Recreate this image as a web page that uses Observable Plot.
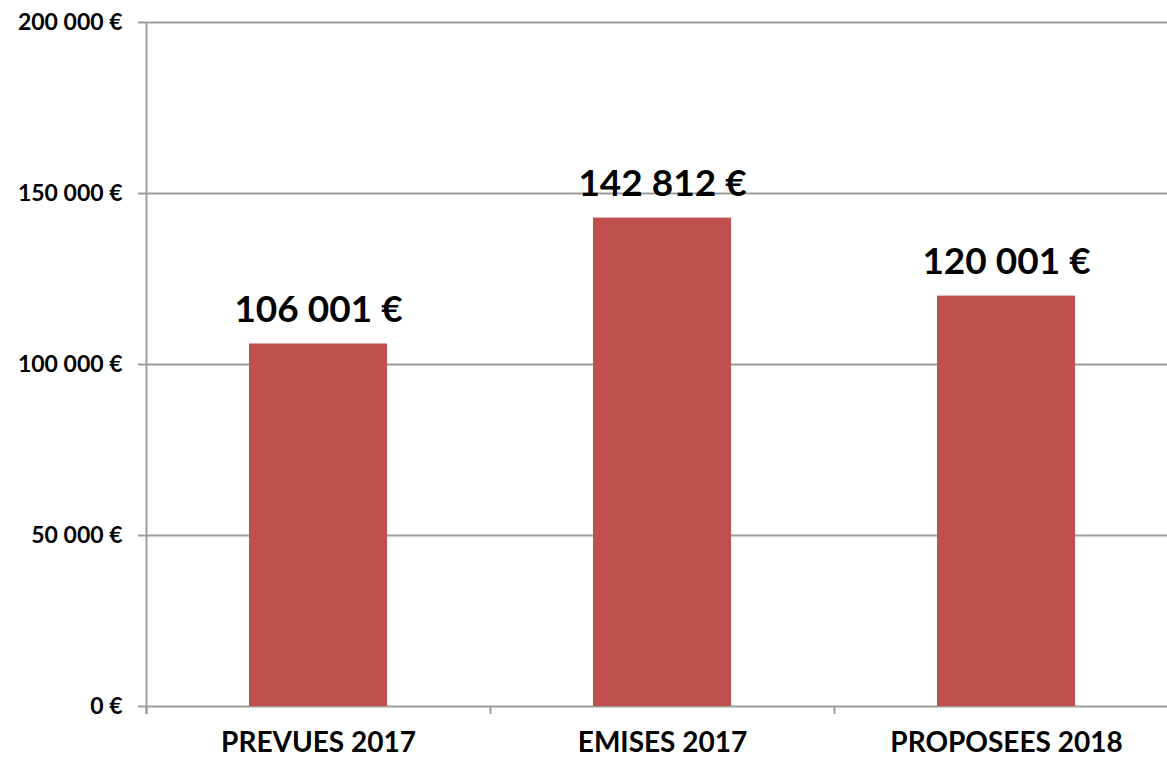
<!DOCTYPE html>
<html>
<head>
<meta charset="utf-8">
<script src="https://cdn.jsdelivr.net/npm/d3@7"></script>
<script src="https://cdn.jsdelivr.net/npm/@observablehq/plot@0.6"></script>
<style>
  html, body { margin: 0; padding: 0; background: #fff; }
  #chart svg { display: block; }
</style>
</head>
<body>
<div id="chart"></div>
<script>
const categories = ["PREVUES 2017", "EMISES 2017", "PROPOSEES 2018"];
const values = [106001, 142812, 120001];
const yTicks = [0, 50000, 100000, 150000, 200000];
const yMax = 200000;

const data = categories.map((c, i) => ({category: c, value: values[i]}));

const euro = v => d3.format(",")(v).replace(/,/g, " ") + " €";

const W = 1167, H = 758;
const mL = 146, mT = 22, mB = 52;
const step = 344;
const xRange = [mL, mL + step * categories.length];
const font = "Lato, 'Open Sans', sans-serif";
const grid = "#9d9d9d";

const chart = Plot.plot({
  width: W,
  height: H,
  marginLeft: mL,
  marginRight: 0,
  marginTop: mT,
  marginBottom: mB,
  style: {fontFamily: font, color: "#000", background: "#fff", overflow: "visible"},
  x: {domain: categories, range: xRange, padding: 0, label: null},
  y: {domain: [0, yMax], ticks: yTicks, label: null},
  marks: [
    Plot.gridY(yTicks, {stroke: grid, strokeOpacity: 1, strokeWidth: 2}),
    Plot.axisY(yTicks, {
      tickSize: 8, tickPadding: 16, tickFormat: euro, label: null,
      stroke: grid, strokeWidth: 2,
      fontSize: 23, fontWeight: "bold", fill: "#000"
    }),
    Plot.barY(data, {
      x: "category", y: "value", fill: "#c0504d",
      insetLeft: 103, insetRight: 103
    }),
    Plot.ruleX([categories[0]], {
      y1: yMax, y2: 0, dx: -step / 2, insetBottom: -8,
      stroke: grid, strokeWidth: 2
    }),
    Plot.ruleX(categories, {
      y1: 0, y2: 0, dx: -step / 2, insetBottom: -8,
      stroke: grid, strokeWidth: 2
    }),
    Plot.axisX({
      tickSize: 0, tickPadding: 26, label: null,
      fontSize: 28, fontWeight: "bold", fill: "#000"
    }),
    Plot.text(data, {
      x: "category", y: "value", text: d => euro(d.value),
      dy: -22, lineAnchor: "bottom", textAnchor: "middle",
      fontSize: 37, fontWeight: "bold", fill: "#000"
    })
  ]
});
document.getElementById("chart").appendChild(chart);
</script>
</body>
</html>
